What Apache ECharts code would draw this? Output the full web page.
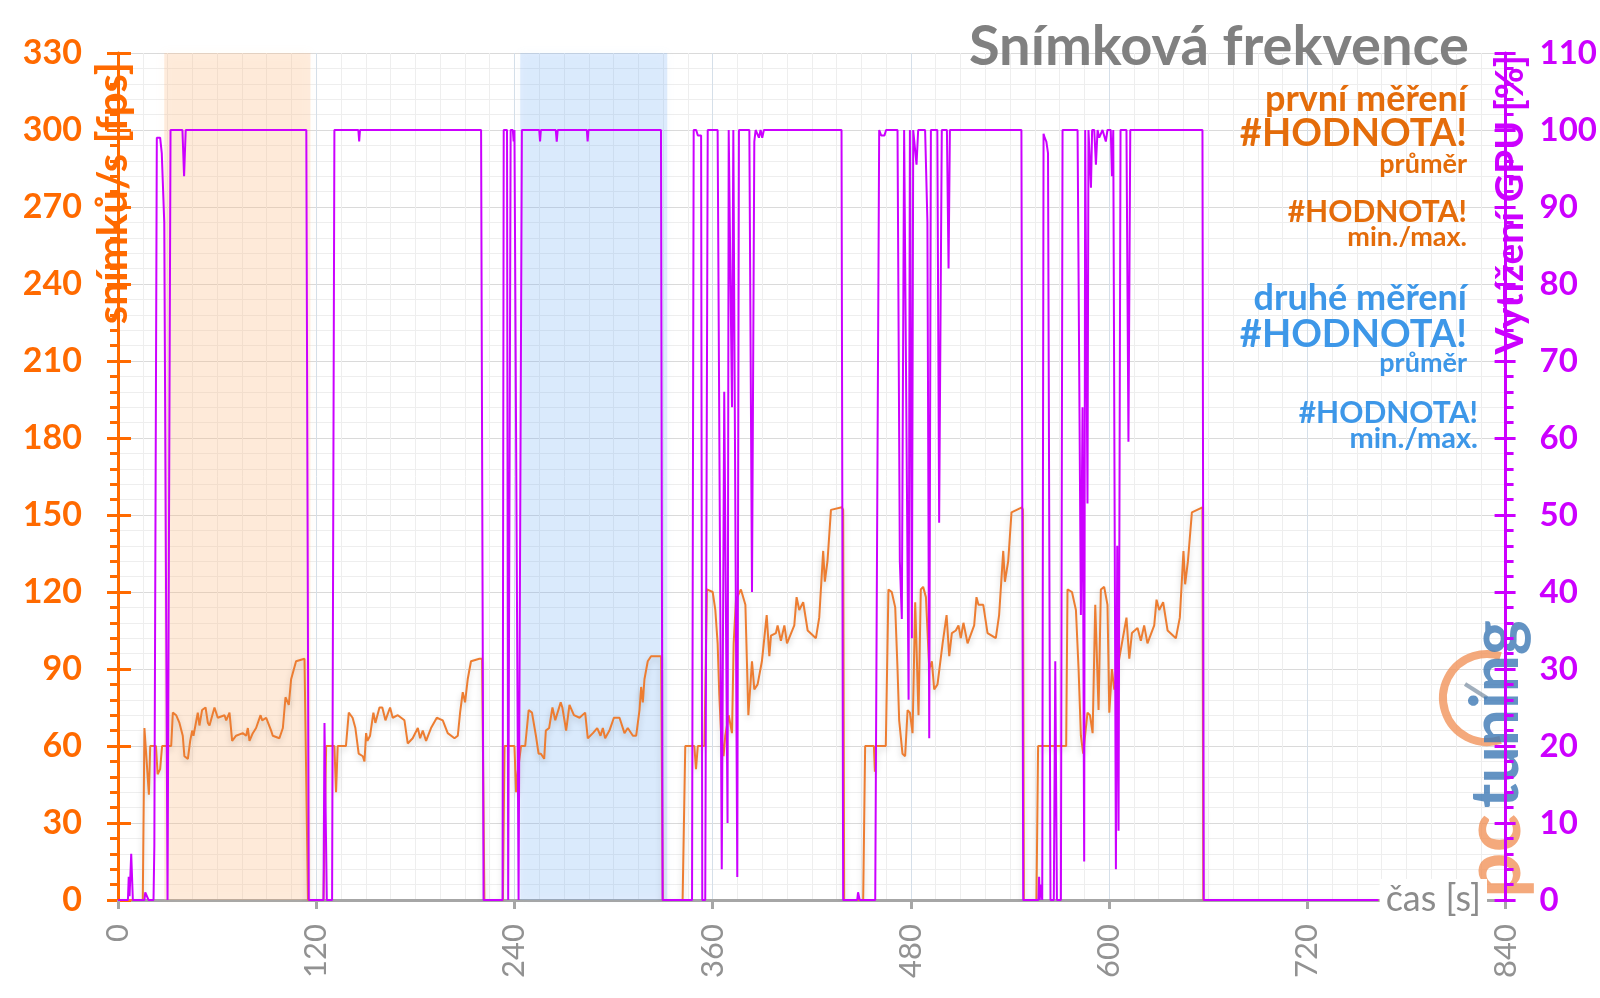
<!DOCTYPE html>
<html>
<head>
<meta charset="utf-8">
<title>Snímková frekvence</title>
<script src="https://cdn.jsdelivr.net/npm/echarts@6/dist/echarts.min.js"></script>
<style>
  html, body { margin: 0; padding: 0; background: #fff; }
  #chart { width: 1600px; height: 998px; }
</style>
</head>
<body>
<div id="chart"></div>
<script>
// axis ranges / tick steps
const timeMax = 840, timeStep = 120
const fpsMax = 330, fpsStep = 30
const gpuMax = 110, gpuStep = 10

// shaded measurement windows [start, end] in seconds
const firstWindow = [28, 116.5]
const secondWindow = [243.5, 332.5]

// frame rate [time s, fps], one array per run
const fpsRun1 = [[0,0],[15,0],[16,67],[18.7,41],[19.5,60],[23,60],[24,49],[25.5,51],[26.7,60],[32.2,60],[33.2,73],[35.2,72],[37.2,69],[39.2,64],[40.2,56],[42.3,55],[43.7,62],[44.9,66],[45.7,64],[48.3,73],[49.3,68],[50.9,74],[53,75],[54.4,69],[55.4,68],[58.4,75],[60.4,71],[64.5,72],[65.5,70],[67.5,73],[69.1,62],[71.5,64],[75.5,65],[77.6,64],[78.6,67],[79.6,62],[81.6,65],[83.6,67],[86.3,72],[87.3,70],[89.7,71],[92.7,66],[93.7,64],[97.7,63],[99.8,67],[101.4,79],[103.4,76],[104.8,86],[107.8,93],[112.9,94],[113.9,94],[115,0]]
const fpsRun2 = [[124.4,0],[126,60],[131,60],[132,42],[133,60],[138,60],[139.7,73],[142,71],[143.7,67],[145.7,57],[148.2,56],[149.2,54],[150.2,65],[151,62],[152.6,64],[154.6,73],[155.8,69],[158.3,75],[160,75],[161.9,70],[164.7,75],[166.3,71],[169.4,72],[171.4,71],[173.4,70],[175.4,61],[178.4,63],[181.5,67],[182.9,63],[184.5,66],[186.5,62],[189.5,67],[193,71],[196.6,70],[199.6,65],[203.7,63],[205.7,64],[207.1,73],[208.7,81],[210.1,77],[211.7,86],[213.7,93],[218.8,94],[220.4,94],[221.8,0]]
const fpsRun3 = [[233,0],[234,60],[240,60],[241,42],[242,50],[243,50],[244,60],[246.5,60],[248.6,74],[250.6,73],[253,64],[254.6,57],[256,57],[258,55],[259,66],[261,67],[263,75],[264.7,70],[268,77],[269,75],[271.3,66],[273.3,76],[276,72],[279.4,71],[282.8,73],[284.4,63],[287.5,65],[290.1,67],[292.1,64],[293.5,67],[294.9,63],[297.5,66],[300.2,71],[303.6,71],[306.6,65],[308.6,67],[311.7,64],[313.7,64],[315.7,74],[316.7,83],[317.7,77],[318.7,86],[320.7,93],[322.7,95],[328.8,95],[329.2,95],[329.8,0]]
const fpsRun4 = [[341.8,0],[343.4,60],[348.9,60],[349.9,51],[351,60],[355,60],[356.5,121],[357.6,121],[360,120],[361.6,113],[363,100],[364,80],[365,66],[366.6,56],[367.6,64],[369.7,72],[371.7,65],[372.7,100],[374.1,117],[377.1,121],[379.8,115],[381.6,72],[383.8,93],[385.2,82],[387.2,84],[389.8,93],[392.7,111],[394.3,95],[395.3,103],[398.3,104],[399.3,107],[401.3,101],[403.4,107],[405,100],[409.4,107],[410.8,118],[412.4,113],[414.8,116],[417.5,105],[422.5,102],[424.5,110],[426.9,136],[427.9,124],[429.5,132],[431.6,152],[438.2,153],[439,152],[439.6,0]]
const fpsRun5 = [[451.1,0],[452.3,60],[457.6,60],[458.2,50],[458.8,60],[464.8,60],[466.4,121],[468.4,120],[470.5,114],[471.9,90],[472.9,70],[474.9,57],[476.5,56],[478,74],[479.4,73],[481,65],[482.6,116],[484.6,72],[486,121],[487.4,122],[489.1,118],[491.1,90],[492.7,93],[494.1,82],[496.1,84],[499.2,100],[501.6,111],[503.2,95],[504.8,104],[507.2,105],[508.8,107],[510.2,102],[511.8,108],[514.3,100],[518.3,107],[519.7,118],[520.9,115],[523.8,115],[526.4,104],[531.4,102],[533.4,111],[535.9,136],[536.9,124],[538.9,132],[540.9,151],[547.2,153],[547.8,152],[548.4,0]]
const fpsRun6 = [[556,0],[557,60],[574,60],[574.8,121],[577.5,120],[579.9,113],[581.5,90],[582.9,64],[584.3,57],[586.9,73],[588.4,72],[590,65],[591.6,115],[593.6,74],[595,121],[597,122],[599,115],[600.1,73],[601.7,90],[603.1,82],[606.1,94],[610.5,110],[612.2,94],[613.8,104],[617.2,106],[619.2,101],[621.2,107],[623.2,100],[627.3,107],[628.7,117],[630.3,113],[632.7,116],[635.4,105],[640.4,102],[642.8,110],[645,136],[646,123],[647.7,132],[650.1,151],[656.5,153],[657,0],[763,0]]

// GPU load [time s, %]
const gpuRun12 = [[0,0],[6,0],[6.5,3],[7,0.5],[8,6],[9,0],[16,0],[16.5,1],[17.5,1],[18.5,0],[21.5,0],[22,7],[23.5,99],[25.5,99],[26.5,97],[28,88],[30,0],[30.8,0],[31.8,100],[39,100],[40,94],[41,100],[114,100],[115.5,0],[124.4,0],[125,23],[126.4,0],[129.6,0],[131,100],[145.5,100],[146,98.5],[146.5,100],[219.8,100],[221.3,0]]
const gpuRun3 = [[232.8,0],[233.5,100],[235.5,100],[236.2,0],[237,0],[237.7,100],[239,100],[239.5,98.5],[240,100],[241,100],[242.5,0],[243.5,0],[244.5,100],[255,100],[255.5,98.5],[256,100],[265,100],[265.6,98.5],[266.2,100],[283.8,100],[284.3,98.5],[284.8,100],[328.7,100],[329.7,0]]
const gpuRun4 = [[347.5,0],[348.5,100],[350,100],[351,99.3],[353,99.3],[353.7,0],[355.5,0],[357,100],[363,100],[365.5,4],[367,66],[369,10],[369.7,100],[370.5,100],[371.7,64],[372.5,100],[373.5,100],[374.9,3],[375.9,100],[382.2,100],[383.8,40],[385.2,98.5],[386,100],[388,99],[389,100],[390,99],[391,100],[438,100],[439,0],[447.5,0],[448,1],[449,0]]
const gpuRun5 = [[458.4,0],[460.8,100],[462,99.3],[464,99.3],[465,100],[471.9,100],[473.3,44],[474.5,36.5],[475.9,100],[477,100],[478.6,26],[479.4,100],[480,100],[480.6,34],[481.4,100],[482.5,100],[483.4,95.5],[484.4,100],[488.6,100],[490,88],[491.1,21],[492.1,100],[496,100],[497.1,49],[498.7,100],[501.8,100],[502.8,82],[503.6,100],[546.9,100],[548,0]]
const gpuRun6 = [[557.2,0],[557.6,3],[558,0],[558.5,2],[559.5,0],[560.3,99.5],[561,99],[562,98.5],[563,97],[564.5,0],[566.5,0],[567.4,31],[568.4,0],[570.8,0],[571.8,100],[580.9,100],[582.9,37],[583.9,64],[584.9,5],[585.5,100],[586,100],[586.9,51.5],[587.5,100],[588.3,100],[589,92.5],[589.7,100],[591,100],[592,95.5],[593,100],[594,99],[596,100],[598,98.5],[599,100],[601,100],[601.7,94],[602.5,100],[603.2,100],[604.1,4],[604.9,46],[605.7,9],[606.9,100],[610.5,100],[611.7,59.5],[612.8,100],[656.5,100],[657.3,0],[763,0]]

const fpsData = [].concat(fpsRun1, fpsRun2, fpsRun3, fpsRun4, fpsRun5, fpsRun6)
const gpuData = [].concat(gpuRun12, gpuRun3, gpuRun4, gpuRun5, gpuRun6)

const orange = '#ff6a00'
const orangeText = '#e46c0a'
const blueText = '#3d97e8'
const magenta = '#cc00ff'
const gray = '#8c8c8c'

function label(text, x, y, size, color) {
  return {
    type: 'text', x, y, z: 50,
    style: { text, fill: color, font: `bold ${size}px Lato`, align: 'right', verticalAlign: 'middle' }
  }
}

const chart = echarts.init(document.getElementById('chart'))

chart.setOption({
  animation: false,
  backgroundColor: '#fff',
  textStyle: { fontFamily: 'Lato' },
  grid: { left: 118, right: 91, top: 53, bottom: 98 },
  xAxis: {
    type: 'value', min: 0, max: timeMax, interval: timeStep,
    axisLine: { lineStyle: { color: '#a6a6a6', width: 3 } },
    axisTick: { length: 9, lineStyle: { color: '#a6a6a6', width: 3 } },
    axisLabel: { rotate: 90, margin: 24, color: '#929292', fontSize: 31, fontFamily: 'Lato' },
    splitLine: { lineStyle: { color: '#d5dfe9' } },
    minorTick: { show: false, splitNumber: 8 },
    minorSplitLine: { show: true, lineStyle: { color: '#eeeeee' } }
  },
  yAxis: [
    {
      type: 'value', position: 'left', min: 0, max: fpsMax, interval: fpsStep,
      axisLine: { show: true, lineStyle: { color: orange, width: 3 } },
      axisTick: { show: true, length: 11, lineStyle: { color: orange, width: 3 } },
      minorTick: { show: true, splitNumber: 5, length: 8, lineStyle: { color: orange, width: 3 } },
      axisLabel: { color: orange, fontSize: 34, fontWeight: 'bold', fontFamily: 'Lato', margin: 36 },
      splitLine: { lineStyle: { color: '#dadada' } },
      minorSplitLine: { show: true, lineStyle: { color: '#eeeeee' } }
    },
    {
      type: 'value', position: 'right', min: 0, max: gpuMax, interval: gpuStep, z: 5,
      axisLine: { show: true, lineStyle: { color: magenta, width: 3 } },
      axisTick: { show: true, length: 10, lineStyle: { color: magenta, width: 3 } },
      minorTick: { show: true, splitNumber: 5, length: 8, lineStyle: { color: magenta, width: 3 } },
      axisLabel: { color: magenta, fontSize: 33, fontWeight: 'bold', fontFamily: 'Lato', margin: 34 },
      splitLine: { show: false }
    },
    // inner halves of the crossing major ticks
    {
      type: 'value', position: 'left', min: 0, max: fpsMax, interval: fpsStep,
      axisLine: { show: false },
      axisTick: { show: true, inside: true, length: 13, lineStyle: { color: orange, width: 3 } },
      axisLabel: { show: false }, splitLine: { show: false }
    },
    {
      type: 'value', position: 'right', min: 0, max: gpuMax, interval: gpuStep, z: 5,
      axisLine: { show: false },
      axisTick: { show: true, inside: true, length: 11, lineStyle: { color: magenta, width: 3 } },
      axisLabel: { show: false }, splitLine: { show: false }
    }
  ],
  series: [
    {
      name: 'fps', type: 'line', yAxisIndex: 0, data: fpsData,
      symbol: 'none', z: 2,
      lineStyle: { color: '#ed7d31', width: 2, shadowColor: 'rgba(0,0,0,0.18)', shadowBlur: 6, shadowOffsetY: 3 },
      markArea: {
        silent: true,
        data: [
          [{ xAxis: firstWindow[0], itemStyle: { color: 'rgba(250,190,135,0.27)', shadowColor: 'rgba(250,190,135,0.25)', shadowBlur: 10 } }, { xAxis: firstWindow[1] }],
          [{ xAxis: secondWindow[0], itemStyle: { color: 'rgba(125,180,245,0.24)', shadowColor: 'rgba(125,180,245,0.22)', shadowBlur: 10 } }, { xAxis: secondWindow[1] }]
        ]
      }
    },
    {
      name: 'gpu', type: 'line', yAxisIndex: 1, data: gpuData,
      symbol: 'none', z: 3,
      lineStyle: { color: magenta, width: 2 }
    }
  ],
  graphic: [
    // watermark
    { type: 'arc', x: 1487, y: 698, z: 1, shape: { cx: 0, cy: 0, r: 44, startAngle: Math.PI * 0.4, endAngle: Math.PI * 1.6 },
      style: { stroke: 'rgba(240,140,80,0.75)', lineWidth: 8, fill: null } },
    { type: 'line', x: 1487, y: 698, z: 1, shape: { x1: 0, y1: 0, x2: -22, y2: -14 },
      style: { stroke: 'rgba(120,140,160,0.7)', lineWidth: 4 } },
    { type: 'text', x: 1534, y: 898, z: 1, rotation: Math.PI / 2,
      style: { text: 'pc', fill: 'rgba(240,140,80,0.75)', font: 'bold 80px Lato', align: 'left', verticalAlign: 'bottom' } },
    { type: 'text', x: 1530, y: 808, z: 1, rotation: Math.PI / 2,
      style: { text: 'tuning', fill: 'rgba(60,120,180,0.8)', font: 'bold 66px Lato', align: 'left', verticalAlign: 'bottom' } },
    // axis titles
    { type: 'text', x: 113, y: 62, z: 50, rotation: Math.PI / 2,
      style: { text: 'snímků/s [fps]', fill: orange, font: 'bold 42px Lato', align: 'right', verticalAlign: 'middle' } },
    { type: 'text', x: 1510, y: 55, z: 50, rotation: Math.PI / 2,
      style: { text: 'Vytížení GPU [%]', fill: magenta, font: 'bold 39px Lato', align: 'right', verticalAlign: 'middle' } },
    { type: 'text', x: 1487, y: 899, z: 50,
      style: { text: 'čas [s]', fill: gray, font: '36px Lato', align: 'right', verticalAlign: 'middle', backgroundColor: '#fff', padding: [2, 6] } },
    // title and legend blocks
    label('Snímková frekvence', 1469, 47, 56, '#808080'),
    label('první měření', 1467, 99, 36, orangeText),
    label('#HODNOTA!', 1467, 134, 38, orangeText),
    label('průměr', 1467, 164, 27, orangeText),
    label('#HODNOTA!', 1467, 212, 30, orangeText),
    label('min./max.', 1467, 237, 27, orangeText),
    label('druhé měření', 1467, 298, 36, blueText),
    label('#HODNOTA!', 1467, 335, 38, blueText),
    label('průměr', 1467, 363, 27, blueText),
    label('#HODNOTA!', 1478, 413, 30, blueText),
    label('min./max.', 1478, 439, 29, blueText)
  ]
})
</script>
</body>
</html>
